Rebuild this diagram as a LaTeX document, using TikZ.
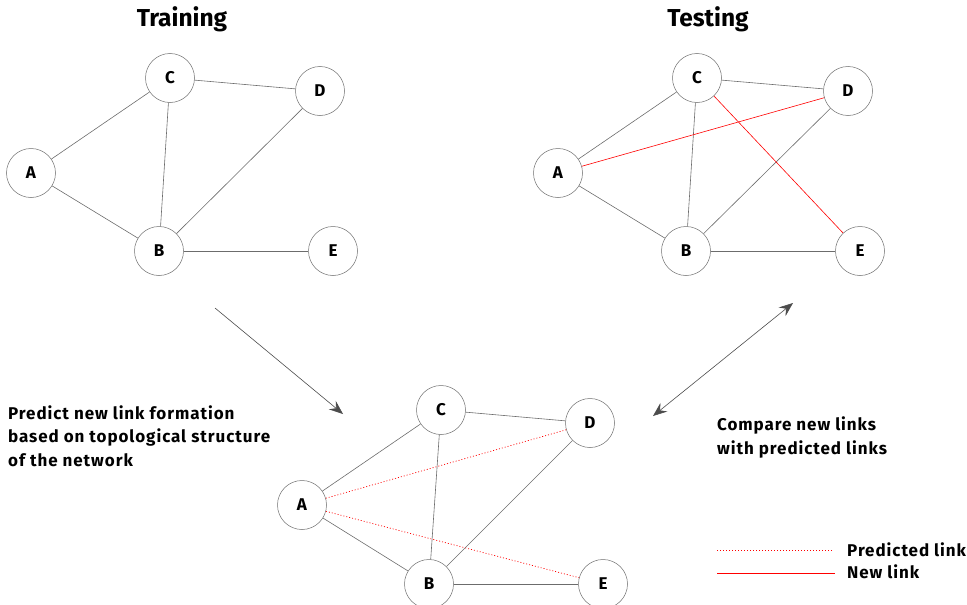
\documentclass[tikz,border=0pt]{standalone}
\usepackage{fontspec}
\setmainfont{Fira Sans}
\usetikzlibrary{arrows.meta}
\tikzset{
  vtx/.style={circle, draw=gray!85!black, line width=0.5pt, minimum size=49pt, inner sep=0pt, font=\fontsize{17}{20}\selectfont\bfseries},
  edge/.style={draw=gray!85!black, line width=0.6pt},
  newlink/.style={draw=red, line width=0.6pt},
  predlink/.style={draw=red, line width=0.7pt, dash pattern=on 1pt off 2pt},
  title/.style={font=\fontsize{24.5}{28}\selectfont\bfseries},
  body/.style={font=\fontsize{17}{23.5}\selectfont\bfseries\addfontfeature{LetterSpace=5.5}, align=left, inner sep=0pt},
  flow/.style={draw=gray!60!black, line width=0.6pt},
  tip/.tip={Stealth[length=14pt, width=11pt, inset=5pt]}
}
\begin{document}
\begin{tikzpicture}[x=1pt, y=-1pt]
\useasboundingbox (0,0) rectangle (967,605);
% titles
\node[title, anchor=base] (ttrain) at (182,26) {Training};
\node[title, anchor=base] (ttest) at (708,26) {Testing};
% training graph
\node[vtx] (a1) at (31,173) {A};
\node[vtx] (b1) at (159,251) {B};
\node[vtx] (c1) at (170,78) {C};
\node[vtx] (d1) at (320,91) {D};
\node[vtx] (e1) at (333,251) {E};
\draw[edge] (a1) -- (c1);
\draw[edge] (a1) -- (b1);
\draw[edge] (c1) -- (b1);
\draw[edge] (c1) -- (d1);
\draw[edge] (b1) -- (d1);
\draw[edge] (b1) -- (e1);
% testing graph
\node[vtx] (a2) at (558,173) {A};
\node[vtx] (b2) at (686,251) {B};
\node[vtx] (c2) at (697,78) {C};
\node[vtx] (d2) at (848,91) {D};
\node[vtx] (e2) at (860,251) {E};
\draw[edge] (a2) -- (c2);
\draw[edge] (a2) -- (b2);
\draw[edge] (c2) -- (b2);
\draw[edge] (c2) -- (d2);
\draw[edge] (b2) -- (d2);
\draw[edge] (b2) -- (e2);
\draw[newlink] (a2) -- (d2);
\draw[newlink] (c2) -- (e2);
% prediction graph
\node[vtx] (a3) at (302,505) {A};
\node[vtx] (b3) at (429,584) {B};
\node[vtx] (c3) at (441,410) {C};
\node[vtx] (d3) at (590,423) {D};
\node[vtx] (e3) at (603,584) {E};
\draw[edge] (a3) -- (c3);
\draw[edge] (a3) -- (b3);
\draw[edge] (c3) -- (b3);
\draw[edge] (c3) -- (d3);
\draw[edge] (b3) -- (d3);
\draw[edge] (b3) -- (e3);
\draw[predlink] (a3) -- (d3);
\draw[predlink] (a3) -- (e3);
% flow arrows
\coordinate (f1s) at (215,308);
\coordinate (f1e) at (343,414);
\coordinate (f2s) at (653,416);
\coordinate (f2e) at (793,303);
\draw[flow, -tip] (f1s) -- (f1e);
\draw[flow, tip-tip] (f2s) -- (f2e);
% texts
\node[body, anchor=base west] (tpred) at (8,466) {Predict new link formation\\based on topological structure\\of the network};
\node[body, anchor=base west] (tcomp) at (717,454) {Compare new links\\with predicted links};
% legend
\coordinate (l1s) at (717,550);
\coordinate (l1e) at (833,550);
\coordinate (l2s) at (717,573);
\coordinate (l2e) at (835,573);
\draw[predlink] (l1s) -- (l1e);
\draw[newlink] (l2s) -- (l2e);
\node[body, anchor=base west] (lpred) at (847,556) {Predicted link};
\node[body, anchor=base west] (lnew) at (847,578) {New link};
\end{tikzpicture}
\end{document}
